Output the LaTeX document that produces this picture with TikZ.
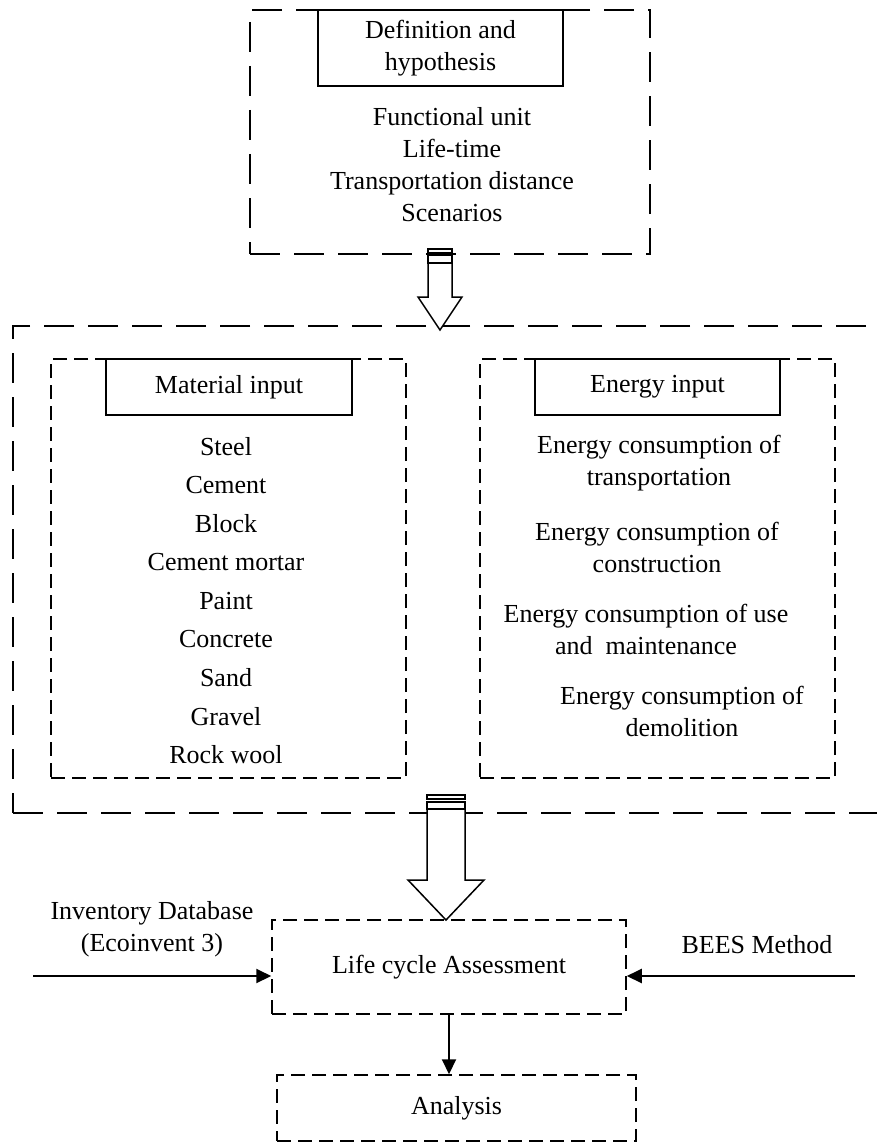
\documentclass[tikz,border=0pt]{standalone}
\usepackage{fontspec}
\setmainfont{Liberation Serif}
\usetikzlibrary{arrows.meta, positioning, calc}

\begin{document}
\begin{tikzpicture}[
  x=1pt, y=-1pt,
  font=\fontsize{26}{32}\selectfont,
  >={Triangle[length=15pt,width=14pt]},
  every node/.style={align=center, inner sep=0pt},
  bigbox/.style={draw, line width=1.5pt, dash pattern=on 30pt off 14pt},
  subbox/.style={draw, line width=1.5pt, dash pattern=on 14pt off 7pt},
  title/.style={draw, line width=1.5pt, fill=white},
  arr/.style={->, line width=2pt},
  hollow/.style={draw, line width=1.5pt, fill=white, line join=miter},
]
\clip (0,0) rectangle (877,1142);

% definition block
\node[bigbox, minimum width=400pt, minimum height=244pt] (hyp) at (450,132) {};
\node[title, minimum width=245pt, minimum height=76pt] (def) at (440.5,48)
  {Definition and\\hypothesis};
\node (hyplist) at (452,165)
  {Functional unit\\Life-time\\Transportation distance\\Scenarios};

% inventory block
\node[bigbox, minimum width=887pt, minimum height=487pt] (inv) at (456.5,569.5) {};
\node[subbox, minimum width=355pt, minimum height=419pt] (mat) at (228.5,568.5) {};
\node[subbox, minimum width=355pt, minimum height=419pt] (ene) at (657.5,568.5) {};
\node[title, minimum width=246pt, minimum height=56pt] (matt) at (229,387) {Material input};
\node[title, minimum width=245pt, minimum height=56pt] (enet) at (657.5,387) {Energy input};

\foreach \t [count=\i] in {Steel, Cement, Block, Cement mortar, Paint,
                           Concrete, Sand, Gravel, Rock wool}
  \node (m\i) at (226,{447+38.5*(\i-1)}) {\t};

\node (e1) at (659,463) {Energy consumption of\\transportation};
\node (e2) at (657,547) {Energy consumption of\\construction};
\node (e3) at (646,629) {Energy consumption of use\\and\ \ maintenance};
\node (e4) at (682,711) {Energy consumption of\\demolition};

% assessment
\node[subbox, minimum width=354pt, minimum height=94pt] (lca) at (449,967)
  {Life cycle Assessment};
\node[subbox, minimum width=359pt, minimum height=66pt] (ana) at (456.5,1108)
  {Analysis};
\node (db) at (152,929) {Inventory Database\\(Ecoinvent 3)};
\node (bees) at (757,945) {BEES Method};
\coordinate (dbin) at (33,976);
\coordinate (beesin) at (855,976);

% hollow arrows
\coordinate (a1tip) at (440,330);
\draw[hollow] (428,249) rectangle (452,253);
\draw[hollow] (428,255) rectangle (452,263);
\draw[hollow] (a1tip) -- ++(-22,-33) -- ++(10,0) -- ++(0,-34) -- ++(24,0)
  -- ++(0,34) -- ++(10,0) -- cycle;

\coordinate (a2tip) at (446,920);
\draw[hollow] (427,795) rectangle (465,799);
\draw[hollow] (427,802) rectangle (465,809);
\draw[hollow] (a2tip) -- ++(-38,-40) -- ++(19,0) -- ++(0,-71) -- ++(38,0)
  -- ++(0,71) -- ++(19,0) -- cycle;

\draw[arr] (dbin) -- (dbin -| lca.west);
\draw[arr] (beesin) -- (beesin -| lca.east);
\draw[arr] (lca.south) -- (lca.south |- ana.north);
\end{tikzpicture}
\end{document}
